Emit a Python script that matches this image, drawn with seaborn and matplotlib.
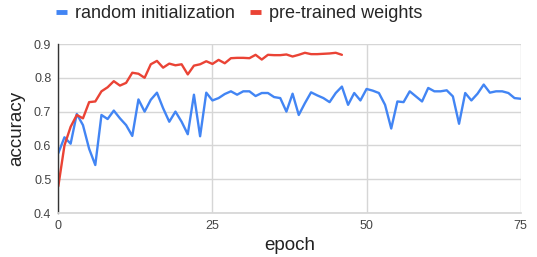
import matplotlib
matplotlib.use('Agg')
import matplotlib.pyplot as plt
from matplotlib.lines import Line2D
import pandas as pd
import seaborn as sns

# accuracy per epoch
random_init = [0.577, 0.624, 0.605, 0.693, 0.66, 0.59, 0.542, 0.69, 0.678, 0.703,
               0.68, 0.66, 0.628, 0.736, 0.70, 0.735, 0.756, 0.71, 0.67, 0.70,
               0.67, 0.633, 0.75, 0.627, 0.756, 0.733, 0.74, 0.752, 0.76, 0.75,
               0.76, 0.76, 0.746, 0.755, 0.755, 0.743, 0.74, 0.70, 0.753, 0.69,
               0.725, 0.757, 0.748, 0.74, 0.728, 0.755, 0.774, 0.72, 0.755, 0.733,
               0.767, 0.762, 0.755, 0.72, 0.65, 0.73, 0.728, 0.76, 0.745, 0.73,
               0.77, 0.76, 0.76, 0.763, 0.745, 0.664, 0.755, 0.733, 0.753, 0.78,
               0.756, 0.76, 0.76, 0.755, 0.74, 0.738]
pretrained = [0.479, 0.60, 0.655, 0.69, 0.68, 0.728, 0.73, 0.76, 0.772, 0.79,
              0.777, 0.785, 0.815, 0.812, 0.80, 0.84, 0.85, 0.83, 0.842, 0.837,
              0.84, 0.81, 0.836, 0.84, 0.849, 0.841, 0.853, 0.843, 0.858, 0.859,
              0.859, 0.858, 0.868, 0.854, 0.868, 0.867, 0.867, 0.869, 0.863, 0.868,
              0.874, 0.87, 0.87, 0.871, 0.872, 0.874, 0.868]
series_names = ['random initialization', 'pre-trained weights']
series_colors = ['#4285F4', '#EA4335']
x_ticks = [0, 25, 50, 75]
y_ticks = [0.4, 0.5, 0.6, 0.7, 0.8, 0.9]

df = pd.concat([
    pd.DataFrame({'epoch': range(len(random_init)), 'accuracy': random_init, 'series': series_names[0]}),
    pd.DataFrame({'epoch': range(len(pretrained)), 'accuracy': pretrained, 'series': series_names[1]}),
], ignore_index=True)

sns.set_theme(style='white')
plt.rcParams['font.family'] = ['Liberation Sans', 'DejaVu Sans']

fig = plt.figure(figsize=(5.37, 2.57), dpi=100)
ax = fig.add_axes([58.3 / 537, 1 - 213 / 257, (520.7 - 58.3) / 537, (213 - 44) / 257])
sns.lineplot(data=df, x='epoch', y='accuracy', hue='series', hue_order=series_names,
             palette=series_colors, linewidth=1.7, estimator=None, legend=False, ax=ax)
for line in ax.get_lines():
    line.set_solid_joinstyle('round')

ax.set_xlim(0, 75)
ax.set_ylim(0.4, 0.9)
ax.set_xticks(x_ticks)
ax.set_yticks(y_ticks)
ax.set_yticklabels([f'{v:.1f}' for v in y_ticks])
ax.grid(True, color='#d6d6d6', linewidth=1)
ax.set_axisbelow(True)
ax.tick_params(length=0, labelsize=9, labelcolor='#444444', pad=5)
for side in ['top', 'right']:
    ax.spines[side].set_visible(False)
ax.spines['bottom'].set_color('#d6d6d6')
ax.spines['left'].set_color('#333333')
ax.spines['left'].set_linewidth(1)
ax.set_xlabel('epoch', fontsize=13.5, color='#222222', labelpad=4)
ax.set_ylabel('accuracy', fontsize=13.5, color='#222222', labelpad=6)

handles = [Line2D([], [], color=c, linewidth=3.5, solid_capstyle='butt') for c in series_colors]
fig.legend(handles, series_names, loc='center left', bbox_to_anchor=(56 / 537, 1 - 14 / 257),
           ncol=2, frameon=False, fontsize=13, handlelength=0.6, handletextpad=0.45,
           columnspacing=0.85, borderpad=0, borderaxespad=0)

fig.savefig('out.png', dpi=100)
